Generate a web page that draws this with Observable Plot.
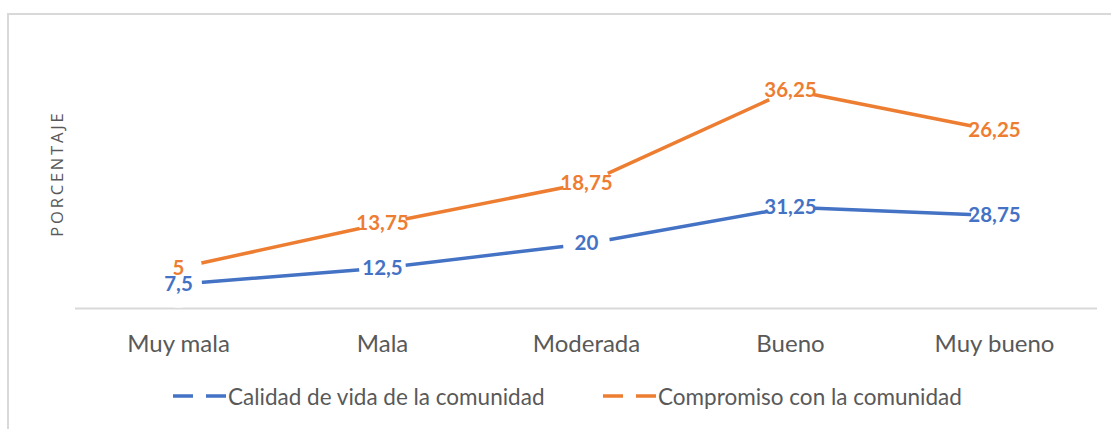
<!DOCTYPE html>
<html>
<head>
<meta charset="utf-8">
<script src="https://cdn.jsdelivr.net/npm/d3@7"></script>
<script src="https://cdn.jsdelivr.net/npm/@observablehq/plot@0.6"></script>
<style>
  html, body { margin: 0; padding: 0; background: #fff; overflow: hidden; width: 1111px; height: 429px; }
  #frame { position: absolute; left: 7px; top: 13px; width: 1200px; height: 600px; border: 2px solid #d9d9d9; box-sizing: border-box; }
  #chart { position: absolute; left: 0; top: 0; }
  #ytitle { position: absolute; left: 57px; top: 175px; transform: translate(-50%, -50%) rotate(-90deg); font-family: "Open Sans", sans-serif; font-size: 16.5px; letter-spacing: 2.8px; color: #595959; white-space: nowrap; line-height: 1; padding-left: 2.8px; }
  #legend { position: absolute; left: 0; top: 0; width: 1111px; height: 429px; font-family: Lato, sans-serif; font-size: 22.5px; color: #595959; pointer-events: none; }
  .item { position: absolute; top: 382px; height: 28px; display: flex; align-items: center; white-space: nowrap; }
  .item svg { display: block; }
</style>
</head>
<body>
<div id="frame"></div>
<div id="chart"></div>
<div id="ytitle"></div>
<div id="legend"></div>
<script>
const categories = ["Muy mala", "Mala", "Moderada", "Bueno", "Muy bueno"];
const seriesNames = ["Calidad de vida de la comunidad", "Compromiso con la comunidad"];
const calidad = [7.5, 12.5, 20, 31.25, 28.75];
const compromiso = [5, 13.75, 18.75, 36.25, 26.25];
const colors = ["#4472C4", "#ED7D31"];
const yTitle = "PORCENTAJE";

const rows = [];
[calidad, compromiso].forEach((vals, s) => {
  vals.forEach((v, i) => rows.push({cat: categories[i], value: v, series: seriesNames[s]}));
});

const fmt = v => String(v).replace(".", ",");

const chart = Plot.plot({
  width: 1111,
  height: 370,
  marginLeft: 75,
  marginRight: 14,
  marginTop: 49,
  marginBottom: 62,
  style: {fontFamily: "Lato, sans-serif", color: "#595959", background: "transparent", overflow: "visible"},
  x: {type: "point", domain: categories, padding: 0.5, label: null},
  y: {domain: [0, 80], axis: null},
  color: {domain: seriesNames, range: colors},
  marks: [
    Plot.ruleY([0], {stroke: "#d9d9d9", strokeWidth: 2}),
    Plot.axisX({tickSize: 0, tickPadding: 26, fontSize: 24, fill: "#595959", label: null}),
    Plot.line(rows, Plot.stackY2({x: "cat", y: "value", z: "series", stroke: "series", strokeWidth: 3.5, strokeLinejoin: "round"})),
    // white (invisible) markers that break the lines around each label, as in the original
    Plot.dot(rows, Plot.stackY2({x: "cat", y: "value", z: "series", r: 23.5, fill: "white", stroke: null})),
    Plot.text(rows, Plot.stackY2({x: "cat", y: "value", z: "series", text: d => fmt(d.value), fill: "series", fontSize: 20.5, fontWeight: "bold"}))
  ]
});
document.getElementById("chart").appendChild(chart);
document.getElementById("ytitle").textContent = yTitle;

// legend
const legend = document.getElementById("legend");
const lefts = [172, 602];
seriesNames.forEach((name, i) => {
  const item = document.createElement("div");
  item.className = "item";
  item.style.left = lefts[i] + "px";
  const ns = "http://www.w3.org/2000/svg";
  const sw = document.createElementNS(ns, "svg");
  sw.setAttribute("width", "56");
  sw.setAttribute("height", "10");
  const ln = document.createElementNS(ns, "line");
  ln.setAttribute("x1", "1"); ln.setAttribute("x2", "55");
  ln.setAttribute("y1", "5"); ln.setAttribute("y2", "5");
  ln.setAttribute("stroke", colors[i]);
  ln.setAttribute("stroke-width", "3.5");
  ln.setAttribute("stroke-dasharray", "20 13");
  sw.appendChild(ln);
  item.appendChild(sw);
  const t = document.createElement("span");
  t.textContent = name;
  item.appendChild(t);
  legend.appendChild(item);
});
</script>
</body>
</html>
